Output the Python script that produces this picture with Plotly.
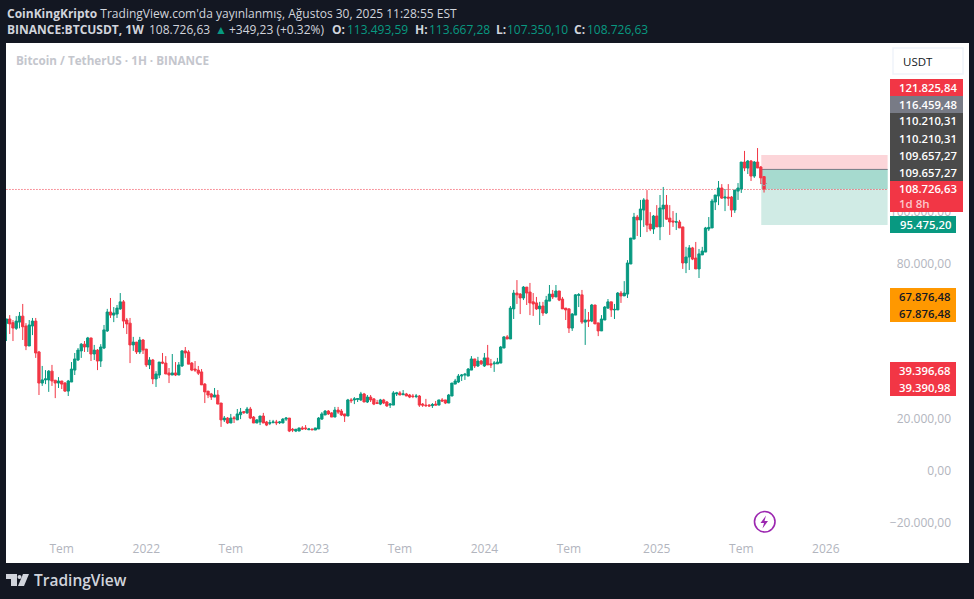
import pandas as pd
import plotly.graph_objects as go

# Weekly BTC/USDT candles, thousand USDT
opens = [56.9,58.6,57.2,55.0,57.4,59.7,55.9,48.2,55.9,57.8,45.9,33.9,35.1,35.1,38.5,35.0,33.9,34.7,33.9,30.8,
 34.3,38.9,42.8,46.3,48.9,47.8,51.3,45.1,46.6,42.4,47.4,54.0,61.3,60.1,60.5,62.5,65.2,58.2,57.0,48.6,
 49.7,45.9,50.5,47.0,40.9,42.8,35.5,37.0,42.0,41.6,37.8,37.0,37.8,37.0,40.5,46.3,45.9,41.6,39.3,38.9,
 38.2,33.5,30.8,29.7,28.5,29.3,26.2,19.7,20.4,18.5,20.5,19.7,21.7,22.9,22.4,23.9,20.8,18.5,18.9,21.2,
 18.9,18.4,18.6,18.9,18.6,18.5,20.0,20.4,16.1,15.4,15.4,16.6,16.6,15.9,16.2,15.8,16.2,20.0,21.6,23.1,
 22.4,20.8,23.5,23.1,22.0,21.2,27.4,27.4,27.6,27.4,29.7,26.6,28.5,27.8,26.3,25.8,27.4,26.6,25.4,25.4,
 29.7,30.1,29.4,29.7,29.3,28.9,28.7,28.9,25.8,25.4,25.4,25.2,25.8,25.4,27.4,27.4,26.2,28.9,33.5,34.3,
 36.6,37.0,36.6,38.9,43.2,40.5,42.4,40.5,43.6,41.3,41.3,41.3,41.6,47.4,51.7,50.9,62.5,68.6,68.2,66.7,
 70.9,69.0,65.2,64.8,62.5,63.6,60.9,65.5,68.2,67.1,69.4,66.3,62.8,62.5,55.1,60.1,67.7,67.9,57.4,58.2,
 57.8,64.0,57.1,54.0,58.2,62.8,65.2,62.1,62.1,68.6,67.5,68.2,79.8,89.4,97.9,96.8,100.6,104.5,95.2,93.3,
 98.3,94.1,101.0,102.5,97.5,96.4,95.9,96.0,94.1,80.2,82.5,86.0,82.1,77.9,83.3,84.4,93.3,93.7,103.7,106.0,
 109.1,105.2,105.6,105.6,100.6,107.9,108.7,119.1,116.8,119.5,113.7,119.1,117.2,113.49]
closes = [58.6,56.7,55.1,57.8,59.7,55.6,48.2,56.3,57.8,45.5,33.9,35.1,35.5,38.5,34.7,33.9,34.7,33.5,30.8,34.7,
 39.3,43.2,46.6,48.9,47.8,51.3,45.1,46.6,42.4,47.8,54.4,61.3,60.1,60.9,62.8,65.2,57.8,56.7,48.6,49.7,
 45.9,50.5,46.6,40.9,42.8,35.5,37.4,42.0,41.6,37.4,37.0,37.8,37.0,40.9,46.3,45.5,41.2,38.9,38.9,37.7,
 33.2,30.5,29.3,28.5,29.3,25.8,19.7,20.4,18.5,20.4,20.2,22.0,22.7,22.5,23.9,20.4,18.5,19.7,21.2,18.5,
 17.7,18.6,18.9,18.6,18.9,20.0,20.4,15.4,15.8,16.1,16.6,16.2,16.3,16.2,15.9,16.6,20.4,22.0,23.1,22.0,
 20.8,23.5,22.7,21.6,21.2,27.4,27.1,27.8,27.9,29.7,26.6,28.5,27.4,25.8,26.1,27.4,26.2,25.1,25.8,30.1,
 30.1,29.3,29.7,28.9,28.5,28.7,28.9,25.4,25.4,25.2,25.1,25.6,25.4,27.4,27.0,26.2,29.3,33.9,34.7,36.6,
 37.0,37.3,39.3,43.2,40.5,42.4,41.3,43.6,40.9,40.9,41.6,42.0,47.8,51.7,50.9,62.8,68.6,67.9,66.7,70.9,
 68.6,64.8,64.4,62.5,63.6,60.9,65.9,68.2,67.1,69.4,65.9,62.5,62.1,55.1,60.5,67.9,68.0,57.4,58.2,57.8,
 64.0,56.7,54.0,58.6,63.2,65.2,62.1,62.3,68.6,67.5,68.6,80.2,89.8,97.9,96.8,101.0,104.5,94.8,93.3,98.3,
 94.1,101.4,102.5,97.1,96.0,96.0,96.1,93.7,80.2,82.5,86.0,81.7,77.9,83.7,84.8,93.7,93.9,104.1,106.4,109.1,
 105.2,105.6,105.2,100.6,108.3,109.1,119.1,116.8,119.5,113.7,119.1,116.8,113.0,108.73]
highs = [58.6,60.1,58.2,59.7,61.3,64.4,57.0,58.2,59.0,59.0,46.3,40.5,38.9,38.9,40.9,35.1,36.2,34.7,34.3,35.1,
 42.0,45.5,47.4,49.3,50.1,51.7,51.3,48.6,47.0,48.9,56.3,62.5,66.7,63.2,64.0,68.6,65.9,59.0,59.0,51.7,
 49.7,51.7,50.9,47.0,43.9,43.2,38.5,42.0,45.5,44.3,39.7,45.1,42.0,42.0,46.6,47.8,46.6,42.0,42.4,40.5,
 39.3,33.9,30.8,30.1,32.0,31.2,26.2,21.2,20.8,22.0,21.2,23.9,24.3,23.1,24.7,24.7,21.2,20.0,21.2,22.4,
 19.3,19.7,19.7,19.7,19.3,20.4,20.8,20.4,16.6,16.2,16.6,17.3,17.7,16.6,16.2,16.6,20.8,22.7,23.5,23.5,
 22.7,24.7,24.7,23.9,22.0,27.8,28.1,28.5,28.1,30.5,30.1,29.3,29.3,28.1,27.4,27.8,27.8,27.0,26.2,30.8,
 30.5,30.8,31.2,30.1,29.7,29.7,29.7,29.3,26.2,27.8,25.8,26.2,27.0,27.4,28.1,27.4,29.7,33.9,35.5,37.4,
 37.4,37.8,39.7,44.3,43.2,44.0,42.8,45.5,48.6,43.2,42.4,43.6,48.2,52.0,52.4,63.6,69.8,73.6,68.6,71.3,
 70.9,72.5,68.6,67.1,65.2,65.2,67.5,71.7,69.8,71.7,69.4,67.1,62.8,62.8,60.9,68.2,68.6,69.8,62.5,61.3,
 64.4,64.0,57.1,60.1,63.6,66.3,65.2,64.4,69.0,69.4,73.2,81.3,89.8,99.5,98.7,104.5,105.2,108.3,99.8,98.7,
 102.5,106.4,109.5,106.4,102.5,100.2,99.5,96.8,94.1,86.4,87.1,86.4,88.3,85.6,86.4,94.1,97.9,104.9,106.4,111.8,
 110.6,108.7,110.6,106.0,108.3,111.0,119.1,123.4,119.9,119.9,119.5,124.5,117.6,113.67]
lows = [50.1,52.8,50.1,54.4,55.0,50.5,46.6,48.2,52.4,43.6,29.3,32.8,33.5,30.5,32.8,28.1,32.0,31.6,30.5,28.9,
 34.3,37.0,42.4,43.6,45.9,45.9,42.4,42.8,38.9,40.1,47.0,53.6,59.0,57.4,59.0,62.1,55.1,52.8,41.6,46.3,
 45.1,45.1,45.1,40.1,39.3,33.5,32.4,35.8,41.2,37.4,33.9,37.0,36.6,37.0,40.1,43.6,41.2,38.5,38.2,37.0,
 33.2,26.2,28.1,27.4,28.5,25.8,17.0,18.9,18.1,18.5,18.5,19.7,20.0,22.0,22.0,20.0,18.5,18.5,17.7,18.5,
 17.3,17.7,18.5,17.7,18.1,18.5,19.3,15.0,15.0,15.0,15.4,15.8,15.8,15.8,15.8,15.8,16.2,19.7,21.6,21.6,
 20.8,20.8,22.0,21.2,18.9,21.2,26.2,25.8,26.6,27.0,26.6,26.2,26.6,25.4,25.8,25.4,25.8,24.7,24.3,25.4,
 28.9,29.3,29.3,28.9,28.1,28.1,28.1,24.7,24.7,24.7,24.7,24.3,25.4,25.4,26.6,25.8,26.2,28.9,33.5,33.9,
 34.7,35.1,36.6,38.9,39.7,40.1,40.9,40.1,40.9,39.7,38.2,41.3,41.6,47.4,50.9,50.9,58.6,64.4,60.5,65.9,
 64.0,60.1,59.8,62.1,56.3,59.8,60.5,65.5,66.3,67.1,65.5,62.5,58.2,53.2,54.0,60.1,63.2,56.7,48.6,55.5,
 57.4,56.7,52.0,54.0,58.2,62.5,59.4,58.6,62.1,64.8,67.5,66.7,79.8,89.4,90.6,90.2,94.1,92.1,92.5,91.4,
 94.1,89.0,94.1,96.8,91.0,94.1,92.9,93.7,77.9,76.3,77.5,81.3,77.9,74.4,83.3,84.4,92.5,93.7,100.6,102.5,
 104.9,100.2,102.2,97.9,99.5,104.5,107.2,115.6,114.5,111.8,113.0,116.8,110.6,107.35]

first_week = "2021-03-08"
tick_dates = ["2021-07-05","2022-01-03","2022-07-04","2023-01-02","2023-07-03",
              "2024-01-01","2024-07-01","2025-01-06","2025-07-07","2026-01-05"]
tick_names = ["Tem","2022","Tem","2023","Tem","2024","Tem","2025","Tem","2026"]
price_ticks = [100000, 80000, 20000, 0, -20000]
price_names = ["100.000,00","80.000,00","20.000,00","0,00","\u221220.000,00"]

stop_level, entry_level, last_price, zone_floor = 121825.84, 116459.48, 108726.63, 94850

UP, DOWN = "#089981", "#f23645"
DARK, GREY = "#131722", "#b2b5be"
FONT = "Open Sans"
W, H = 974, 599
L, R, T, B = 6, 954, 43, 558
Y_TOP, Y_BOTTOM = 165000, -33540
half_px = (Y_TOP - Y_BOTTOM) / (B - T) / 2   # lands thin lines on a pixel row

def px(x): return (x - L) / (R - L)
def py(y): return (B - y) / (B - T)

dates = pd.date_range(first_week, periods=len(opens), freq="7D")
scale = lambda v: [a * 1000 for a in v]

fig = go.Figure(go.Candlestick(
    x=dates, open=scale(opens), high=scale(highs), low=scale(lows), close=scale(closes),
    increasing=dict(line=dict(color=UP, width=1), fillcolor=UP),
    decreasing=dict(line=dict(color=DOWN, width=1), fillcolor=DOWN),
    whiskerwidth=0, showlegend=False, hoverinfo="skip"))

shapes, notes = [], []

def pbox(x0, y0, x1, y1, fill, line=None, layer="above"):
    shapes.append(dict(type="rect", xref="paper", yref="paper", x0=px(x0), x1=px(x1), y0=py(y1), y1=py(y0),
                       fillcolor=fill, line=dict(color=line or fill, width=1 if line else 0), layer=layer))

def text(x, y, s, color="#ffffff", size=12, anchor="left", weight=None):
    f = dict(family=FONT, size=size, color=color)
    if weight:
        f["weight"] = weight
    notes.append(dict(xref="paper", yref="paper", x=px(x), y=py(y), text=s, showarrow=False, xanchor=anchor,
                      yanchor="middle", align=anchor, borderpad=0, font=f))

# white pane beyond the plotting rectangle
pbox(954, 43, 969, 563, "#ffffff", layer="below")
pbox(6, 558, 969, 563, "#ffffff", layer="below")

# position tool
zone_x0, zone_x1 = dates[-1] - pd.Timedelta(days=6), dates[0] + pd.Timedelta(days=int((888 - 6) / 3.253 * 7))
def zone(y0, y1, fill):
    shapes.append(dict(type="rect", xref="x", yref="y", x0=zone_x0, x1=zone_x1, y0=y0, y1=y1,
                       fillcolor=fill, line=dict(width=0), layer="below"))
zone(entry_level, stop_level, "#fcd5d9")
zone(zone_floor, entry_level, "#d0ebe5")
zone(last_price, entry_level, "#a6dacf")
shapes.append(dict(type="line", xref="x", yref="y", x0=zone_x0, x1=zone_x1,
                   y0=entry_level - half_px, y1=entry_level - half_px,
                   line=dict(color="#787b86", width=1), layer="below"))
shapes.append(dict(type="line", xref="x", yref="y", x0=dates[0], x1=zone_x1,
                   y0=last_price - half_px, y1=last_price - half_px,
                   line=dict(color=DOWN, width=1, dash="1px,2px"), layer="below"))
# small marker by the last candles
for a, b, c, d in [(761, 183, 764, 186), (764, 186, 767, 183)]:
    shapes.append(dict(type="line", xref="paper", yref="paper", x0=px(a), y0=py(b), x1=px(c), y1=py(d),
                       line=dict(color="#9a9ea8", width=1)))

# USDT box
shapes.append(dict(type="rect", xref="paper", yref="paper", x0=px(893), x1=px(963), y0=py(74), y1=py(48),
                   fillcolor="#ffffff", line=dict(color="#f0f3fa", width=1.5), layer="above"))
text(902, 61.5, "USDT", "#131722", 11.5)

# price tags
pbox(890, 79, 963, 96, DOWN)
pbox(890, 96, 963, 113, "#787b86")
pbox(890, 113, 963, 181, "#4a4a4a")
pbox(890, 181, 963, 212, DOWN)
pbox(890, 216, 956, 233, UP)
pbox(890, 288, 956, 322, "#ff9800")
pbox(890, 362, 956, 396, DOWN)
for y, s in [(87.5, "121.825,84"), (104, "116.459,48"), (121, "110.210,31"), (138, "110.210,31"),
             (155, "109.657,27"), (172, "109.657,27"), (189, "108.726,63")]:
    text(957.5, y, s, "#ffffff", 11.3, "right", 600)
text(898, 203, "1d 8h", "#fcc6cb", 11.5, "left", 600)
text(952, 224.5, "95.475,20", "#ffffff", 11.3, "right", 600)
text(951, 296, "67.876,48", "#131722", 11.3, "right", 600)
text(951, 313, "67.876,48", "#131722", 11.3, "right", 600)
text(951, 370, "39.396,68", "#ffffff", 11.3, "right", 600)
text(951, 387, "39.390,98", "#ffffff", 11.3, "right", 600)

# header
HEAD = "#d1d4dc"
text(6, 13, "<b>CoinKingKripto</b> TradingView.com'da yayınlanmış, Ağustos 30, 2025 11:28:55 EST", HEAD, 12)
text(6, 30, "<b>BINANCE:BTCUSDT, 1W</b>", HEAD, 12)
text(148, 30, "108.726,63", HEAD, 12)
text(214, 30, "▲", UP, 12)
text(228, 30, "+349,23 (+0.32%)", HEAD, 12)
for x_lab, lab, x_val, val in [(331, "O:", 346, "113.493,59"), (414, "H:", 427.5, "113.667,28"),
                               (495, "L:", 506, "107.350,10"), (573, "C:", 586, "108.726,63")]:
    text(x_lab, 30, f"<b>{lab}</b>", HEAD, 12)
    text(x_val, 30, val, UP, 12)
text(15, 60.5, "<b>Bitcoin / TetherUS · 1H · BINANCE</b>", "#c4c6cd", 11.7)

# purple event icon
shapes.append(dict(type="circle", xref="paper", yref="paper", x0=px(754.5), x1=px(775), y0=py(532), y1=py(511.5),
                   fillcolor="#ffffff", line=dict(color="#9c27b0", width=1.6)))
bolt = [(766, 515.5), (760.5, 523), (764, 523), (762.5, 528.5), (768, 521), (764.5, 521)]
shapes.append(dict(type="path", xref="paper", yref="paper", line=dict(width=0), fillcolor="#9c27b0",
                   path="M" + "L".join(f"{px(a):.5f},{py(b):.5f}" for a, b in bolt) + "Z"))

# TradingView logo
for pts in [[(6, 574), (17, 574), (17, 586), (11, 586), (11, 579), (6, 579)],
            [(23, 574), (29, 574), (24, 586), (18, 586)]]:
    shapes.append(dict(type="path", xref="paper", yref="paper", line=dict(width=0), fillcolor="#d1d4dc",
                       path="M" + "L".join(f"{px(a):.5f},{py(b):.5f}" for a, b in pts) + "Z"))
shapes.append(dict(type="circle", xref="paper", yref="paper", x0=px(17.5), x1=px(21.5), y0=py(579), y1=py(575),
                   fillcolor="#d1d4dc", line=dict(width=0)))
text(33, 580, "TradingView", "#d1d4dc", 15.5, "left", 600)

x_end = dates[0] + pd.Timedelta(days=(R - L) / 3.253 * 7)
fig.update_layout(
    width=W, height=H, autosize=False, paper_bgcolor=DARK, plot_bgcolor="#ffffff",
    margin=dict(l=L, r=W - R, t=T, b=H - B, pad=0), boxgap=0.0,
    shapes=shapes, annotations=notes, showlegend=False,
    font=dict(family=FONT, color=GREY, size=12),
    xaxis=dict(type="date", range=[dates[0] - pd.Timedelta(days=1), x_end], rangeslider=dict(visible=False),
               tickmode="array", tickvals=tick_dates, ticktext=tick_names, showgrid=False, zeroline=False,
               showline=False, ticks="", ticklabelposition="inside", tickfont=dict(size=12, color=GREY)),
    yaxis=dict(side="right", range=[Y_BOTTOM, Y_TOP], tickmode="array", tickvals=price_ticks, ticktext=price_names,
               showgrid=False, zeroline=False, showline=False, ticks="", ticklabelposition="inside",
               tickfont=dict(size=12, color=GREY)),
)
fig.write_html("out.html", config=dict(displayModeBar=False),
               post_script="document.body.style.margin='0';document.body.style.background='#131722';"
                           "document.documentElement.style.overflow='hidden';")
